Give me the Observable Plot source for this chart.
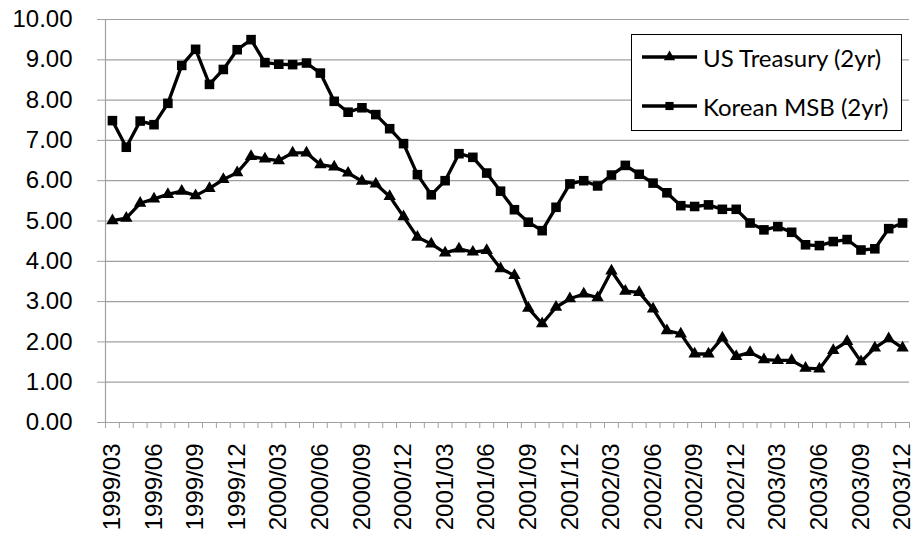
<!DOCTYPE html>
<html>
<head>
<meta charset="utf-8">
<script src="https://cdn.jsdelivr.net/npm/d3@7"></script>
<script src="https://cdn.jsdelivr.net/npm/@observablehq/plot@0.6"></script>
<style>
  html, body { margin: 0; padding: 0; background: #fff; }
  #wrap { position: relative; width: 916px; height: 544px; overflow: hidden; }
  #wrap svg text { font-family: "Liberation Sans", Arial, sans-serif; }
  #legend {
    position: absolute; left: 631px; top: 34px; width: 269px; height: 95px;
    border: 1.5px solid #000; background: #fff; box-sizing: content-box;
    font-family: Lato, "Open Sans", sans-serif; font-size: 24px; color: #000;
  }
  .item { position: absolute; left: 10px; height: 30px; display: flex; align-items: center; white-space: nowrap; }
  .item svg { display: block; margin-right: 6px; }
</style>
</head>
<body>
<div id="wrap"></div>
<script>
const months = [
  "1999/03","1999/04","1999/05","1999/06","1999/07","1999/08","1999/09","1999/10","1999/11","1999/12",
  "2000/01","2000/02","2000/03","2000/04","2000/05","2000/06","2000/07","2000/08","2000/09","2000/10","2000/11","2000/12",
  "2001/01","2001/02","2001/03","2001/04","2001/05","2001/06","2001/07","2001/08","2001/09","2001/10","2001/11","2001/12",
  "2002/01","2002/02","2002/03","2002/04","2002/05","2002/06","2002/07","2002/08","2002/09","2002/10","2002/11","2002/12",
  "2003/01","2003/02","2003/03","2003/04","2003/05","2003/06","2003/07","2003/08","2003/09","2003/10","2003/11","2003/12"
];
const tickLabels = [
  "1999/03","1999/06","1999/09","1999/12","2000/03","2000/06","2000/09","2000/12",
  "2001/03","2001/06","2001/09","2001/12","2002/03","2002/06","2002/09","2002/12",
  "2003/03","2003/06","2003/09","2003/12"
];
const usTreasury = [
  5.01,5.07,5.44,5.55,5.66,5.74,5.63,5.81,6.03,6.20,6.60,6.54,6.50,6.69,6.69,6.40,6.34,6.19,5.99,5.92,
  5.61,5.11,4.60,4.43,4.21,4.31,4.23,4.27,3.82,3.65,2.84,2.45,2.86,3.07,3.19,3.10,3.76,3.26,3.23,2.82,
  2.28,2.20,1.70,1.70,2.10,1.64,1.74,1.56,1.54,1.54,1.35,1.33,1.79,2.01,1.51,1.85,2.08,1.85
];
const koreanMSB = [
  7.49,6.83,7.48,7.39,7.92,8.86,9.26,8.39,8.76,9.25,9.50,8.93,8.89,8.88,8.92,8.67,7.97,7.70,7.81,7.64,
  7.29,6.92,6.15,5.65,6.00,6.67,6.58,6.19,5.74,5.28,4.97,4.76,5.34,5.92,6.00,5.87,6.14,6.38,6.16,5.94,
  5.70,5.38,5.36,5.40,5.29,5.29,4.95,4.78,4.86,4.72,4.41,4.39,4.49,4.54,4.28,4.31,4.81,4.95
];
const seriesNames = ["US Treasury (2yr)", "Korean MSB (2yr)"];
const yTicks = [0,1,2,3,4,5,6,7,8,9,10];

const rows = [];
months.forEach((m, i) => {
  rows.push({i, month: m, value: usTreasury[i], series: seriesNames[0]});
  rows.push({i, month: m, value: koreanMSB[i], series: seriesNames[1]});
});
const boundaries = d3.range(months.length + 1).map(k => k - 0.5);
const labelIdx = tickLabels.map(l => months.indexOf(l));
const gridColor = "#a0a0a0";
const font = "Liberation Sans, Arial, sans-serif";

const chart = Plot.plot({
  width: 916,
  height: 544,
  marginLeft: 105,
  marginRight: 7,
  marginTop: 19,
  marginBottom: 122,
  style: {fontFamily: font, fontSize: "24px", color: "#000", background: "#fff"},
  x: {type: "linear", domain: [-0.5, months.length - 0.5]},
  y: {domain: [0, 10]},
  marks: [
    Plot.ruleY(yTicks, {stroke: gridColor, strokeWidth: 1.2}),
    Plot.ruleX([-0.5], {stroke: gridColor, strokeWidth: 1.2}),
    Plot.axisY({ticks: yTicks, tickSize: 8, tickPadding: 25, tickFormat: d3.format(".2f"), stroke: gridColor, label: null, fontSize: 24, fontFamily: font}),
    Plot.axisX({ticks: boundaries, tickSize: 6, tickFormat: () => "", stroke: gridColor, label: null}),
    Plot.axisX({ticks: labelIdx, tickSize: 0, tickPadding: 21, tickRotate: -90, tickFormat: i => months[i], label: null, fontSize: 24, fontFamily: font}),
    Plot.line(rows, {x: "i", y: "value", z: "series", stroke: "#000", strokeWidth: 3.3, strokeLinejoin: "round"}),
    Plot.dot(rows.filter(d => d.series === seriesNames[0]), {x: "i", y: "value", symbol: "triangle", r: 4.6, fill: "#000", stroke: "none"}),
    Plot.dot(rows.filter(d => d.series === seriesNames[1]), {x: "i", y: "value", symbol: "square", r: 5.4, fill: "#000", stroke: "none"})
  ]
});

const wrap = document.getElementById("wrap");
wrap.appendChild(chart);

// Legend
const legend = document.createElement("div");
legend.id = "legend";
const symbols = [d3.symbolTriangle, d3.symbolSquare];
const sizes = [Math.PI * 4.2 * 4.2, Math.PI * 4.6 * 4.6];
seriesNames.forEach((name, k) => {
  const item = document.createElement("div");
  item.className = "item";
  item.style.top = (k === 0 ? 7 : 56) + "px";
  const s = d3.create("svg").attr("width", 55).attr("height", 20);
  s.append("line").attr("x1", 0).attr("x2", 55).attr("y1", 10).attr("y2", 10).attr("stroke", "#000").attr("stroke-width", 3.3);
  s.append("path").attr("d", d3.symbol(symbols[k], sizes[k])()).attr("transform", "translate(27.5,10)").attr("fill", "#000");
  item.appendChild(s.node());
  const t = document.createElement("span");
  t.textContent = name;
  item.appendChild(t);
  legend.appendChild(item);
});
wrap.appendChild(legend);
</script>
</body>
</html>
